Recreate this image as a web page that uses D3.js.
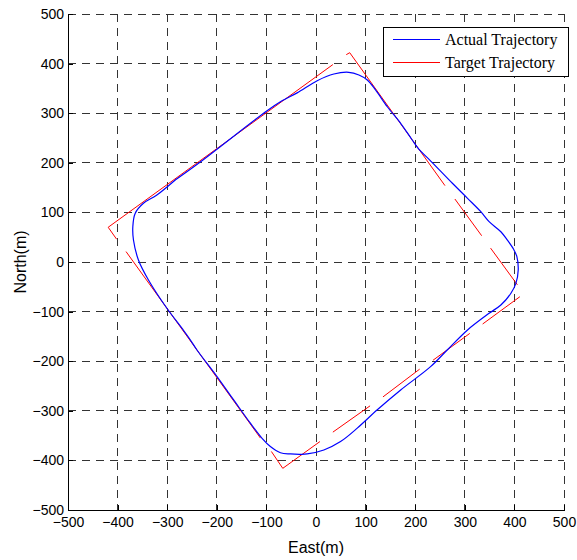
<!DOCTYPE html>
<html>
<head>
<meta charset="utf-8">
<script src="https://cdn.jsdelivr.net/npm/d3@7"></script>
<style>
	body { margin: 0; background: #fff; }
	svg { display: block; }
	.tick text { font-family: "Liberation Sans", Arial, sans-serif; font-size: 14px; fill: #000; }
	.label { font-family: "Liberation Sans", Arial, sans-serif; font-size: 16px; fill: #000; }
	.legend text { font-family: "Liberation Serif", "Times New Roman", serif; font-size: 16px; fill: #000; }
</style>
</head>
<body>
<svg id="chart" width="577" height="560"></svg>
<script>
// tick labels
var eastTicks = [-500, -400, -300, -200, -100, 0, 100, 200, 300, 400, 500];
var northTicks = [-500, -400, -300, -200, -100, 0, 100, 200, 300, 400, 500];

var seriesNames = ["Actual Trajectory", "Target Trajectory"];
var seriesColors = ["#0000ff", "#ff0000"];

// actual trajectory, [east, north]
var actualTrajectory = [
	[-283.8, 165.3], [-236.8, 199], [-98.6, 305], [-71.7, 323], [-38, 341],
	[2.4, 365.5], [36, 379], [66, 382.5], [86.5, 377], [103.4, 367],
	[120, 347], [143.8, 313], [170.7, 279.6], [194, 246], [207.7, 227],
	[228, 207], [275, 158.7], [305.5, 128.4], [332.3, 101.4], [349, 81.3],
	[372.7, 61], [386, 44], [398.4, 25.6], [405, 10.7], [407.7, -16],
	[403, -43], [393, -63], [372.7, -86.7], [349, -103.4], [305.5, -137],
	[265, -177], [231, -211], [170.7, -258], [123.6, -298], [83.2, -335],
	[49.5, -362], [15.8, -379], [-17.8, -387], [-31.3, -387.7], [-51.5, -387],
	[-71.7, -384.5], [-92, -372], [-108.7, -355.5], [-132.3, -325], [-166, -278],
	[-199.6, -231], [-240, -177.4], [-255.6, -153.8], [-270, -134], [-300.6, -93.3],
	[-337.8, -36.3], [-358, 4], [-368, 44.4], [-369.3, 71.2], [-364.6, 98],
	[-347.9, 118.3], [-320.8, 135], [-283.8, 165.3]
];

// target trajectory pieces, [east, north]
var targetSegments = [
	[[-402, 46], [-419, 70], [34, 398]],
	[[61, 418], [68, 422], [260, 154]],
	[[280, 127], [334, 53]],
	[[352, 28], [406, -46]],
	[[411, -70], [336, -125]],
	[[310, -144], [236, -198]],
	[[209, -216], [135, -272]],
	[[109, -290], [34, -343]],
	[[8, -362], [-67, -416], [-90, -382]],
	[[-112, -355], [-383, 21]]
];

var margin = {left: 68, top: 14};
var width = 496, height = 496;

var svg = d3.select("#chart");
var g = svg.append("g").attr("transform", "translate(" + margin.left + "," + margin.top + ")");

var x = d3.scaleLinear().domain([-500, 500]).range([0, width]);
var y = d3.scaleLinear().domain([-500, 500]).range([height, 0]);

/*
 * grid, dashed at every tick
 */
var grid = g.append("g").attr("class", "grid")
	.attr("stroke", "#333")
	.attr("stroke-width", 1)
	.attr("stroke-dasharray", "8,6")
	.attr("shape-rendering", "crispEdges");

grid.selectAll(".gx").data(eastTicks).enter()
	.append("line")
		.attr("x1", function(d) { return x(d); })
		.attr("x2", function(d) { return x(d); })
		.attr("y1", 0)
		.attr("y2", height);

grid.selectAll(".gy").data(northTicks).enter()
	.append("line")
		.attr("y1", function(d) { return y(d); })
		.attr("y2", function(d) { return y(d); })
		.attr("x1", 0)
		.attr("x2", width);

/*
 * axes, ticks pointing inward
 */
var xAxis = g.append("g")
	.attr("transform", "translate(0," + height + ")")
	.call(d3.axisBottom(x).tickValues(eastTicks).tickSize(-5).tickPadding(7).tickSizeOuter(0));

var yAxis = g.append("g")
	.call(d3.axisLeft(y).tickValues(northTicks).tickSize(-5).tickPadding(4).tickSizeOuter(0));

[xAxis, yAxis].forEach(function(a) {
	a.select(".domain").attr("stroke", "#000").attr("shape-rendering", "crispEdges");
	a.selectAll(".tick line").attr("stroke", "#000").attr("shape-rendering", "crispEdges");
	a.attr("font-family", null).attr("font-size", null);
});

/*
 * trajectories
 */
var line = d3.line()
	.x(function(d) { return x(d[0]); })
	.y(function(d) { return y(d[1]); });

g.append("g").selectAll("path").data(targetSegments).enter()
	.append("path")
		.attr("d", line)
		.attr("fill", "none")
		.attr("stroke", seriesColors[1])
		.attr("stroke-width", 1);

g.append("path")
	.datum(actualTrajectory)
	.attr("d", line.curve(d3.curveCatmullRom))
	.attr("fill", "none")
	.attr("stroke", seriesColors[0])
	.attr("stroke-width", 1.2);

/*
 * axis labels
 */
svg.append("text")
	.attr("class", "label")
	.attr("x", margin.left + width / 2)
	.attr("y", 553)
	.attr("text-anchor", "middle")
	.text("East(m)");

svg.append("text")
	.attr("class", "label")
	.attr("transform", "translate(26," + (margin.top + height / 2) + ") rotate(-90)")
	.attr("text-anchor", "middle")
	.text("North(m)");

/*
 * legend
 */
var legend = svg.append("g").attr("class", "legend");

legend.append("rect")
	.attr("x", 383.5)
	.attr("y", 27.5)
	.attr("width", 185)
	.attr("height", 49)
	.attr("fill", "#fff")
	.attr("stroke", "#000")
	.attr("stroke-width", 1);

var rows = legend.selectAll(".row").data(seriesNames).enter()
	.append("g")
		.attr("class", "row")
		.attr("transform", function(d, i) { return "translate(0," + (39.5 + i * 23) + ")"; });

rows.append("line")
	.attr("x1", 393)
	.attr("x2", 440)
	.attr("stroke", function(d, i) { return seriesColors[i]; })
	.attr("stroke-width", 1);

rows.append("text")
	.attr("x", 445)
	.attr("dy", "0.32em")
	.text(function(d) { return d; });
</script>
</body>
</html>
